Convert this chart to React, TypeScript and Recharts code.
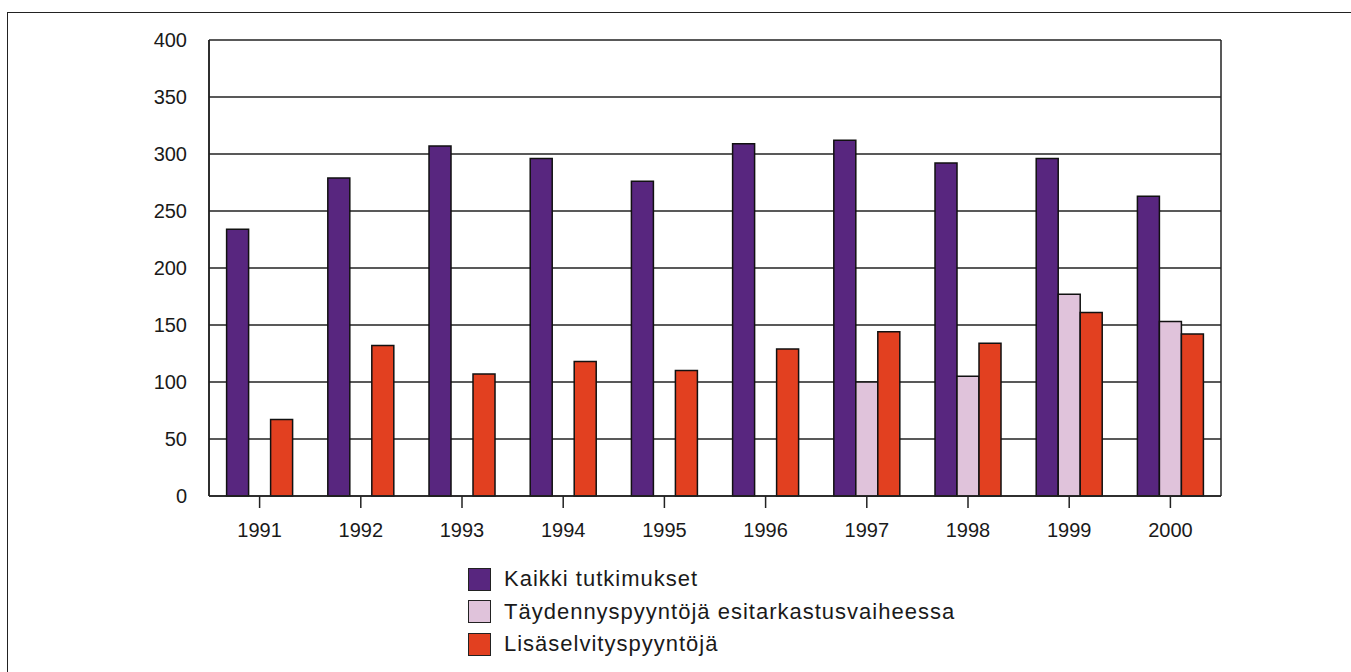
import React from 'react';
import { BarChart, Bar, XAxis, YAxis, CartesianGrid } from 'recharts';

const years = ['1991', '1992', '1993', '1994', '1995', '1996', '1997', '1998', '1999', '2000'];
const kaikki = [234, 279, 307, 296, 276, 309, 312, 292, 296, 263];
const taydennys = [0, 0, 0, 0, 0, 0, 100, 105, 177, 153];
const lisaselvitys = [67, 132, 107, 118, 110, 129, 144, 134, 161, 142];
const yTicks = [0, 50, 100, 150, 200, 250, 300, 350, 400];

const seriesNames = ['Kaikki tutkimukset', 'Täydennyspyyntöjä esitarkastusvaiheessa', 'Lisäselvityspyyntöjä'];
const colors = ['#58267f', '#e0c3db', '#e24020'];

const data = years.map((y, i) => ({
  year: y,
  a: kaikki[i],
  b: taydennys[i],
  c: lisaselvitys[i],
}));

const FONT = '"Liberation Sans", Arial, sans-serif';

const LegendBlock = () => (
  <div style={{ position: 'absolute', left: 468, top: 563, fontFamily: FONT, fontSize: 22, letterSpacing: 1, color: '#1a1a1a' }}>
    {seriesNames.map((n, i) => (
      <div key={n} style={{ display: 'flex', alignItems: 'center', height: 32.5 }}>
        <div
          style={{
            width: 23,
            height: 23,
            background: colors[i],
            border: '1.5px solid #222',
            boxSizing: 'border-box',
            marginRight: 13,
          }}
        />
        <span>{n}</span>
      </div>
    ))}
  </div>
);

export default function App() {
  return (
    <div style={{ position: 'fixed', left: 0, top: 0, width: 1351, height: 672, background: '#fff', overflow: 'hidden' }}>
      <div style={{ position: 'absolute', left: 0, top: 0 }}>
        <BarChart
          width={1351}
          height={672}
          data={data}
          margin={{ top: 40, right: 130, bottom: 136, left: 0 }}
          barCategoryGap="17.4%"
          barGap={0}
        >
          <CartesianGrid
            stroke="#222"
            strokeWidth={1.5}
            vertical={true}
            verticalCoordinatesGenerator={({ offset }: any) => [offset.left, offset.left + offset.width]}
          />
          <XAxis
            dataKey="year"
            height={40}
            axisLine={{ stroke: '#222', strokeWidth: 1.5 }}
            tickLine={{ stroke: '#222', strokeWidth: 1.5 }}
            tickSize={12}
            tickMargin={15}
            tick={{ fill: '#1a1a1a', fontSize: 20, fontFamily: FONT }}
          />
          <YAxis
            width={209}
            domain={[0, 400]}
            ticks={yTicks}
            interval={0}
            axisLine={{ stroke: '#222', strokeWidth: 1.5 }}
            tickLine={false}
            tickSize={0}
            tickMargin={22}
            tick={{ fill: '#1a1a1a', fontSize: 20, fontFamily: FONT }}
          />
          <Bar dataKey="a" name={seriesNames[0]} fill={colors[0]} stroke="#111" strokeWidth={1.5} isAnimationActive={false} />
          <Bar dataKey="b" name={seriesNames[1]} fill={colors[1]} stroke="#111" strokeWidth={1.5} isAnimationActive={false} />
          <Bar dataKey="c" name={seriesNames[2]} fill={colors[2]} stroke="#111" strokeWidth={1.5} isAnimationActive={false} />
        </BarChart>
      </div>
      <LegendBlock />
      <div
        style={{
          position: 'absolute',
          left: 7,
          top: 12,
          width: 1400,
          height: 700,
          borderTop: '1.5px solid #222',
          borderLeft: '1.5px solid #222',
          boxSizing: 'border-box',
          pointerEvents: 'none',
        }}
      />
    </div>
  );
}
